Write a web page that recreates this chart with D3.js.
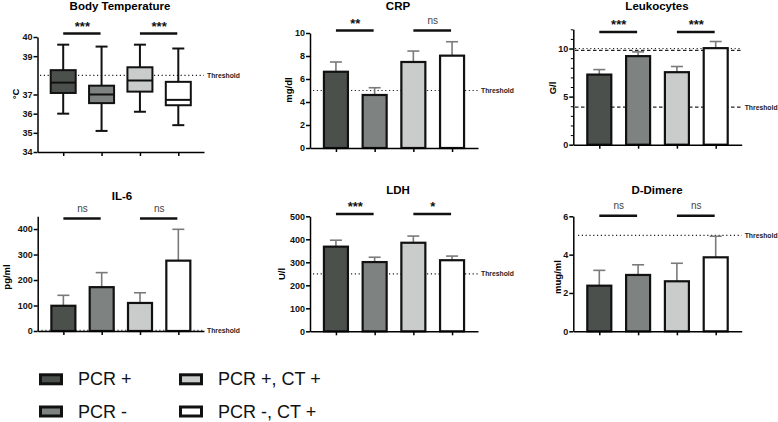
<!DOCTYPE html>
<html>
<head>
<meta charset="utf-8">
<script src="https://cdn.jsdelivr.net/npm/d3@7"></script>
<style>
  body { margin: 0; background: #fff; }
  svg { font-family: "Liberation Sans", Arial, sans-serif; }
</style>
</head>
<body>
<script>
// groups and colours
let groups = ["PCR +", "PCR -", "PCR +, CT +", "PCR -, CT +"];
let groupColors = ["#4b504d", "#7e8281", "#c9ccca", "#ffffff"];

// body temperature box plots (°C)
let tempMin = [36.0, 35.1, 36.1, 35.4];
let tempQ1 = [37.08, 36.55, 37.15, 36.44];
let tempMedian = [37.62, 37.0, 37.73, 36.72];
let tempQ3 = [38.27, 37.46, 38.42, 37.66];
let tempMax = [39.6, 39.5, 39.6, 39.4];

// bar panels: means and upper error (SEM)
let crpMean = [6.63, 4.61, 7.48, 8.03];
let crpErr = [0.85, 0.63, 0.95, 1.21];
let leukMean = [7.29, 9.21, 7.54, 10.04];
let leukErr = [0.52, 0.44, 0.59, 0.69];
let il6Mean = [99, 172, 110, 276];
let il6Err = [41, 57, 40, 123];
let ldhMean = [368, 301, 385, 309];
let ldhErr = [28, 21, 29, 18];
let ddimMean = [2.38, 2.94, 2.61, 3.86];
let ddimErr = [0.80, 0.53, 0.94, 1.10];

// thresholds and significance labels
let tempThreshold = [38];
let crpThreshold = [5];
let leukThreshold = [3.9, 9.8];
let il6Threshold = [3];
let ldhThreshold = [250];
let ddimThreshold = [5];

let tempSig = ["***", "***"];
let crpSig = ["**", "ns"];
let leukSig = ["***", "***"];
let il6Sig = ["ns", "ns"];
let ldhSig = ["***", "*"];
let ddimSig = ["ns", "ns"];

let width = 778;
let height = 422;

let svg = d3.select("body").append("svg")
	.attr("width", width)
	.attr("height", height);

let panels = [
	{title: "Body Temperature", unit: "°C", x0: 37.5, x1: 204, yb: 152, yt: 37, domain: [34, 40],
	 ticks: [34, 35, 36, 37, 39, 40], titleX: 120, titleY: 10, unitX: 15, unitY: 94, sigY: 33.5,
	 thr: tempThreshold, thrX0: 40, sig: tempSig, box: true},
	{title: "CRP", unit: "mg/dl", x0: 310, x1: 478, yb: 148, yt: 33, domain: [0, 10],
	 ticks: [0, 2, 4, 6, 8, 10], titleX: 398, titleY: 10, unitX: 288, unitY: 90, sigY: 30.5,
	 thr: crpThreshold, thrX0: 313, sig: crpSig, mean: crpMean, err: crpErr},
	{title: "Leukocytes", unit: "G/l", x0: 573.3, x1: 741.7, yb: 144.7, yt: 29.3, domain: [0, 12],
	 ticks: [0, 5, 10], minor: true, titleX: 657, titleY: 10, unitX: 552, unitY: 88, sigY: 32,
	 thr: leukThreshold, thrX0: 575, dashed: true, sig: leukSig, mean: leukMean, err: leukErr},
	{title: "IL-6", unit: "pg/ml", x0: 37.7, x1: 204, yb: 331, yt: 216.3, domain: [0, 450],
	 ticks: [0, 100, 200, 300, 400], titleX: 122, titleY: 200, unitX: 6, unitY: 277, sigY: 218.5,
	 thr: il6Threshold, thrX0: 37.7, sig: il6Sig, mean: il6Mean, err: il6Err},
	{title: "LDH", unit: "U/l", x0: 310, x1: 478, yb: 331.3, yt: 216.3, domain: [0, 500],
	 ticks: [0, 100, 200, 300, 400, 500], titleX: 398, titleY: 194, unitX: 281, unitY: 274, sigY: 214,
	 thr: ldhThreshold, thrX0: 313, sig: ldhSig, mean: ldhMean, err: ldhErr},
	{title: "D-Dimere", unit: "mug/ml", x0: 573.3, x1: 741.7, yb: 331.3, yt: 216.3, domain: [0, 6],
	 ticks: [0, 2, 4, 6], titleX: 657, titleY: 194, unitX: 557, unitY: 277, sigY: 215.7,
	 thr: ddimThreshold, thrX0: 578, sig: ddimSig, mean: ddimMean, err: ddimErr}
];

let barW = 24;
let capW = 12;

panels.forEach(function(p){
	let g = svg.append("g");

	let xScale = d3.scalePoint()
		.domain(groups)
		.range([p.x0, p.x1])
		.padding(0.67);

	let yScale = d3.scaleLinear()
		.domain(p.domain)
		.range([p.yb, p.yt]);

	// title + unit
	g.append("text")
		.attr("x", p.titleX).attr("y", p.titleY)
		.attr("text-anchor", "middle")
		.attr("font-size", 11.5).attr("font-weight", "bold")
		.text(p.title);

	g.append("text")
		.attr("transform", `translate(${p.unitX},${p.unitY}) rotate(-90)`)
		.attr("text-anchor", "middle")
		.attr("dominant-baseline", "central")
		.attr("font-size", 9.5).attr("font-weight", "bold")
		.text(p.unit);

	// threshold lines
	p.thr.forEach(function(t, i){
		g.append("line")
			.attr("x1", p.thrX0).attr("x2", p.x1)
			.attr("y1", yScale(t)).attr("y2", yScale(t))
			.attr("stroke", "#222")
			.attr("stroke-width", 1.2)
			.attr("stroke-dasharray", p.dashed ? "3.5,2.5" : "1.2,2.6");
	});
	if(p.dashed){
		g.append("line")
			.attr("x1", p.thrX0).attr("x2", p.x1)
			.attr("y1", yScale(10)).attr("y2", yScale(10))
			.attr("stroke", "#222").attr("stroke-width", 1)
			.attr("stroke-dasharray", "1.2,2.6");
	}
	g.append("text")
		.attr("x", p.x1 + 3)
		.attr("y", yScale(p.thr[0]))
		.attr("dominant-baseline", "central")
		.attr("font-size", 6.8).attr("font-weight", "bold")
		.attr("fill", "#222")
		.text("Threshold");

	if(p.box){
		let boxes = groups.map((d, i) => ({g: d, i: i, min: tempMin[i], q1: tempQ1[i], med: tempMedian[i], q3: tempQ3[i], max: tempMax[i]}));
		let bw = 25;
		boxes.forEach(function(b){
			let cx = xScale(b.g);
			g.append("line").attr("x1", cx).attr("x2", cx).attr("y1", yScale(b.max)).attr("y2", yScale(b.min))
				.attr("stroke", "#111").attr("stroke-width", 2);
			[b.min, b.max].forEach(function(v){
				g.append("line").attr("x1", cx - capW/2).attr("x2", cx + capW/2).attr("y1", yScale(v)).attr("y2", yScale(v))
					.attr("stroke", "#111").attr("stroke-width", 2);
			});
			g.append("rect")
				.attr("x", cx - bw/2).attr("y", yScale(b.q3))
				.attr("width", bw).attr("height", yScale(b.q1) - yScale(b.q3))
				.attr("fill", groupColors[b.i])
				.attr("stroke", "#111").attr("stroke-width", 2);
			g.append("line").attr("x1", cx - bw/2).attr("x2", cx + bw/2).attr("y1", yScale(b.med)).attr("y2", yScale(b.med))
				.attr("stroke", "#111").attr("stroke-width", 2);
		});
	} else {
		// error bars first, bars on top
		g.selectAll(".err").data(p.mean).enter().append("line")
			.attr("x1", (d, i) => xScale(groups[i])).attr("x2", (d, i) => xScale(groups[i]))
			.attr("y1", (d) => yScale(d)).attr("y2", (d, i) => yScale(d + p.err[i]))
			.attr("stroke", "#7a7a7a").attr("stroke-width", 1.6);
		g.selectAll(".cap").data(p.mean).enter().append("line")
			.attr("x1", (d, i) => xScale(groups[i]) - capW/2).attr("x2", (d, i) => xScale(groups[i]) + capW/2)
			.attr("y1", (d, i) => yScale(d + p.err[i])).attr("y2", (d, i) => yScale(d + p.err[i]))
			.attr("stroke", "#7a7a7a").attr("stroke-width", 1.6);
		g.selectAll(".bar").data(p.mean).enter().append("rect")
			.attr("x", (d, i) => xScale(groups[i]) - barW/2)
			.attr("y", (d) => yScale(d))
			.attr("width", barW)
			.attr("height", (d) => yScale(0) - yScale(d))
			.attr("fill", (d, i) => groupColors[i])
			.attr("stroke", "#111").attr("stroke-width", 2.2);
	}

	// axes
	let yAxis = d3.axisLeft(yScale).tickValues(p.ticks).tickSize(4).tickSizeOuter(0).tickFormat(d3.format("d"));
	let ya = g.append("g").attr("transform", `translate(${p.x0},0)`).call(yAxis);
	ya.selectAll("text").attr("font-size", 9).attr("font-weight", "bold").attr("fill", "#111").attr("x", -5);
	ya.select(".domain").attr("stroke-width", 1.5);
	ya.selectAll(".tick line").attr("stroke-width", 1.5);
	if(p.minor){
		let minorAxis = d3.axisLeft(yScale).tickValues(d3.range(p.domain[0], p.domain[1] + 1).filter(v => v % 5 !== 0))
			.tickSize(2.5).tickFormat("");
		let ma = g.append("g").attr("transform", `translate(${p.x0},0)`).call(minorAxis);
		ma.select(".domain").remove();
	}

	let xAxis = d3.axisBottom(xScale).tickSize(4).tickSizeOuter(0).tickFormat("");
	let xa = g.append("g").attr("transform", `translate(0,${p.yb})`).call(xAxis);
	xa.select(".domain").attr("stroke-width", 1.5);
	xa.selectAll(".tick line").attr("stroke-width", 1.5);

	// significance brackets
	p.sig.forEach(function(s, k){
		let a = xScale(groups[k*2]);
		let b = xScale(groups[k*2 + 1]);
		g.append("line").attr("x1", a).attr("x2", b - 1).attr("y1", p.sigY).attr("y2", p.sigY)
			.attr("stroke", "#111").attr("stroke-width", 2.4);
		let isNs = s === "ns";
		g.append("text")
			.attr("x", (a + b) / 2)
			.attr("y", isNs ? p.sigY - 7 : p.sigY - 3)
			.attr("text-anchor", "middle")
			.attr("font-size", isNs ? 10 : 13)
			.attr("font-weight", isNs ? "normal" : "bold")
			.attr("fill", isNs ? "#444" : "#111")
			.text(s);
	});
});

// legend
let legendPos = [[39, 379.3], [39, 411.5], [179, 379.3], [179, 411.5]];
let legend = svg.selectAll(".legend").data(groups).enter().append("g")
	.attr("transform", (d, i) => `translate(${legendPos[i][0]},${legendPos[i][1]})`);
legend.append("rect")
	.attr("x", 1.5).attr("y", -4.5)
	.attr("width", 21).attr("height", 9)
	.attr("fill", (d, i) => groupColors[i])
	.attr("stroke", "#111").attr("stroke-width", 3);
legend.append("text")
	.attr("x", 39)
	.attr("y", 0)
	.attr("dominant-baseline", "central")
	.attr("font-size", 18)
	.attr("fill", "#111")
	.text(d => d);
</script>
</body>
</html>
